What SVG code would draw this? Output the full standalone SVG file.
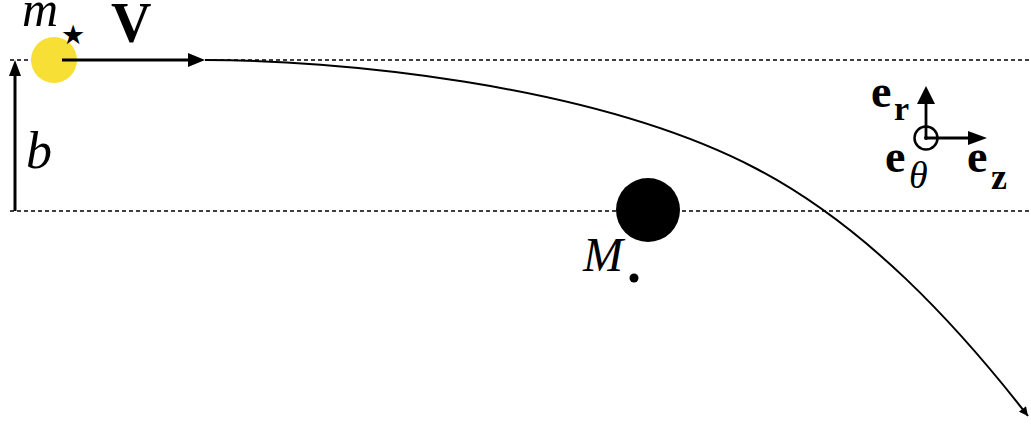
<svg xmlns="http://www.w3.org/2000/svg" width="1031" height="428" viewBox="0 0 1031 428">
<style>
.dash{stroke:#000;stroke-width:1.6;stroke-dasharray:4 3;fill:none}
.tx{font-family:"Liberation Serif","DejaVu Serif","Times New Roman",serif;fill:#000}
.it{font-style:italic}
.bd{font-weight:bold}
</style>
<defs>
<marker id="ah" viewBox="0 0 10 10" refX="10" refY="5" markerWidth="6" markerHeight="4.5" orient="auto" markerUnits="strokeWidth">
<path d="M0,0 L10,5 L0,10 Z" fill="#000"/>
</marker>
</defs>
<g id="guides">
<line class="dash" x1="10" y1="60" x2="1031" y2="60"/>
<line class="dash" x1="10" y1="211" x2="1031" y2="211"/>
</g>
<g id="star">
<circle cx="54" cy="60" r="23" fill="#F8DF36"/>
<text class="tx it" x="22" y="26" font-size="50">m</text>
<text x="61" y="44" font-family="DejaVu Sans, sans-serif" font-size="27">★</text>
</g>
<g id="massM">
<circle cx="648" cy="210" r="32" fill="#000"/>
<text class="tx it" x="583" y="271" font-size="48">M</text>
<circle cx="634" cy="278" r="4.5" fill="#000"/>
</g>
<g id="basis">
<circle cx="926" cy="138" r="11.5" fill="none" stroke="#000" stroke-width="2.5"/>
<circle cx="926" cy="138" r="2" fill="#000"/>
<text class="tx bd" x="871" y="107" font-size="46">e</text>
<text class="tx bd" x="894" y="120" font-size="34">r</text>
<text class="tx bd" x="885" y="172" font-size="46">e</text>
<text class="tx it" x="909" y="188" font-size="38">θ</text>
<text class="tx bd" x="967" y="172" font-size="46">e</text>
<text class="tx bd" x="991" y="189" font-size="36">z</text>
</g>
<g id="labels">
<text class="tx bd" x="111" y="42" font-size="56">V</text>
<text class="tx it" x="26" y="168" font-size="52">b</text>
</g>
<g id="connectors">
<line x1="15" y1="211" x2="15" y2="76" stroke="#000" stroke-width="3"/>
<path d="M15,60 L9,76 L21,76 Z" fill="#000"/>
<line x1="62" y1="60" x2="190" y2="60" stroke="#000" stroke-width="3"/>
<path d="M205,60 L188,53 L188,67 Z" fill="#000"/>
<line x1="926" y1="138" x2="926" y2="103" stroke="#000" stroke-width="2.8"/>
<path d="M926,86 L917,104 L935,104 Z" fill="#000"/>
<line x1="926" y1="138" x2="970" y2="138" stroke="#000" stroke-width="2.8"/>
<path d="M987,138 L968,131 L968,145 Z" fill="#000"/>
<path d="M205,60 C330,60 590,82.2 755,168 C865,225.2 955.6,323.2 1028,416" fill="none" stroke="#000" stroke-width="2" marker-end="url(#ah)"/>
</g>
</svg>
